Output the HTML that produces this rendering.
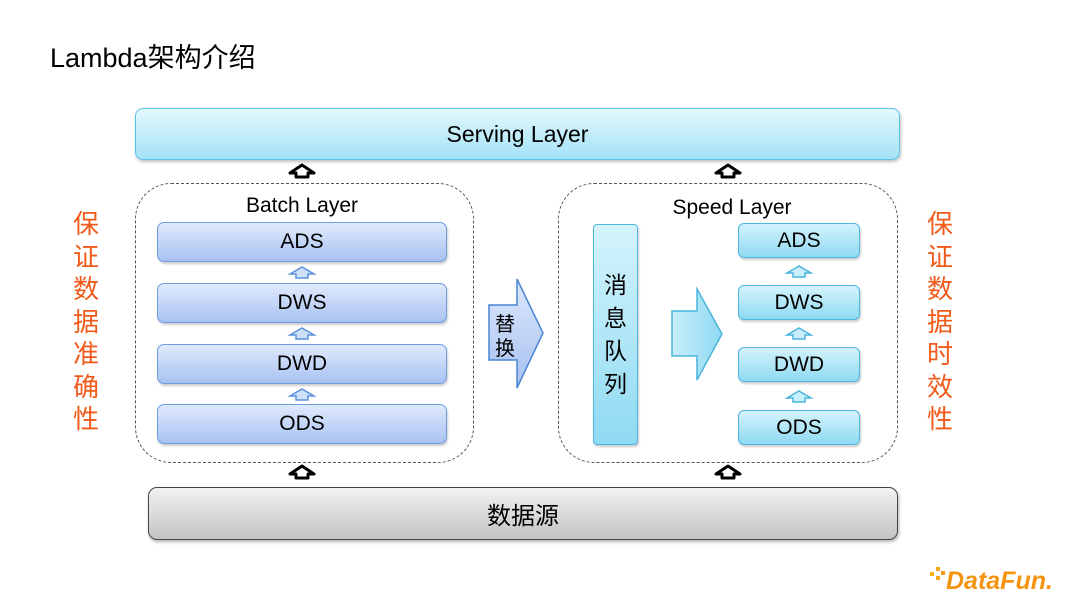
<!DOCTYPE html>
<html><head><meta charset="utf-8"><style>
body{margin:0;width:1080px;height:608px;background:#fff;position:relative;overflow:hidden;font-family:"Liberation Sans","Noto Sans CJK SC",sans-serif;}
.a{position:absolute;box-sizing:border-box;}
.c{display:flex;align-items:center;justify-content:center;}
.bb{background:linear-gradient(#e0eafc,#a8c2f2);border:1.5px solid #6e9ee0;border-radius:7px;font-size:21px;color:#000;box-shadow:1px 2px 2px rgba(0,0,0,.2);}
.sb{background:linear-gradient(#d4f3fc,#8fdaf2);border:1.5px solid #4fb6de;border-radius:6px;font-size:21px;color:#000;box-shadow:1px 2px 2px rgba(0,0,0,.2);}
.dash{border:1px dashed #555;border-radius:36px;}
.or{color:#f05a1a;font-size:26px;line-height:32.5px;width:30px;text-align:center;}
</style></head><body>
<div class="a" style="left:50px;top:36px;font-size:27px;">Lambda架构介绍</div>

<div class="a c" style="left:135px;top:108px;width:765px;height:52px;background:linear-gradient(#e3f8fd,#a3e2f6);border:1.5px solid #5cc2e4;border-radius:8px;font-size:23px;box-shadow:1px 2px 3px rgba(0,0,0,.25);">Serving Layer</div>

<div class="a dash" style="left:135px;top:183px;width:339px;height:280px;"></div>
<div class="a dash" style="left:558px;top:183px;width:340px;height:280px;"></div>
<div class="a" style="left:202px;top:194px;width:200px;text-align:center;font-size:21px;">Batch Layer</div>
<div class="a" style="left:632px;top:196px;width:200px;text-align:center;font-size:21px;">Speed Layer</div>

<div class="a c bb" style="left:157px;top:222px;width:290px;height:40px;">ADS</div>
<div class="a c bb" style="left:157px;top:283px;width:290px;height:40px;">DWS</div>
<div class="a c bb" style="left:157px;top:344px;width:290px;height:40px;">DWD</div>
<div class="a c bb" style="left:157px;top:404px;width:290px;height:40px;">ODS</div>

<div class="a c sb" style="left:738px;top:223px;width:122px;height:35px;">ADS</div>
<div class="a c sb" style="left:738px;top:285px;width:122px;height:35px;">DWS</div>
<div class="a c sb" style="left:738px;top:347px;width:122px;height:35px;">DWD</div>
<div class="a c sb" style="left:738px;top:410px;width:122px;height:35px;">ODS</div>

<div class="a sb" style="left:593px;top:224px;width:45px;height:221px;font-size:23px;line-height:33px;text-align:center;padding-top:44px;border-radius:4px;">消<br>息<br>队<br>列</div>

<div class="a c" style="left:148px;top:487px;width:750px;height:53px;background:linear-gradient(#f2f2f2,#c4c4c4);border:1.5px solid #444;border-radius:9px;font-size:24px;box-shadow:1px 2px 3px rgba(0,0,0,.3);">数据源</div>

<div class="a or" style="left:71px;top:208px;">保<br>证<br>数<br>据<br>准<br>确<br>性</div>
<div class="a or" style="left:925px;top:208px;">保<br>证<br>数<br>据<br>时<br>效<br>性</div>

<svg class="a" style="left:0;top:0" width="1080" height="608">
<defs>
<linearGradient id="g1" x1="0" y1="0" x2="0" y2="1"><stop offset="0" stop-color="#dde8fc"/><stop offset="1" stop-color="#a6c0f0"/></linearGradient>
<linearGradient id="g2" x1="0" y1="0" x2="1" y2="0"><stop offset="0" stop-color="#c8effb"/><stop offset="1" stop-color="#8fd9f2"/></linearGradient>
<g id="blk"><path d="M-12,4 L0,-4 L12,4 L6,4 L6,8 L-6,8 L-6,4 Z" fill="#fff" stroke="#000" stroke-width="3" stroke-linejoin="round"/></g>
<g id="sml"><path d="M-12,3 L0,-4 L12,3 L6,3 L6,7 L-6,7 L-6,3 Z" fill="#cfe0fb" stroke="#5a92dc" stroke-width="1.5"/></g>
<g id="smc"><path d="M-12,3 L0,-4 L12,3 L6,3 L6,7 L-6,7 L-6,3 Z" fill="#c8effb" stroke="#4ab4dc" stroke-width="1.5"/></g>
</defs>
<use href="#blk" x="302" y="169"/>
<use href="#blk" x="728" y="169"/>
<use href="#blk" x="302" y="470"/>
<use href="#blk" x="728" y="470"/>
<use href="#sml" x="302" y="271"/>
<use href="#sml" x="302" y="332"/>
<use href="#sml" x="302" y="393"/>
<use href="#smc" x="799" y="270"/>
<use href="#smc" x="799" y="332"/>
<use href="#smc" x="799" y="395"/>
<path d="M489,305 L517,305 L517,279 L543,333 L517,388 L517,360 L489,360 Z" fill="url(#g1)" stroke="#4a86d4" stroke-width="1.5"/>
<text x="505" y="331" font-size="20" text-anchor="middle" font-family="Noto Sans CJK SC,sans-serif">替</text>
<text x="505" y="355" font-size="20" text-anchor="middle" font-family="Noto Sans CJK SC,sans-serif">换</text>
<path d="M672,311 L697,311 L697,289 L722,334 L697,380 L697,356 L672,356 Z" fill="url(#g2)" stroke="#4ab4dc" stroke-width="1.5"/>
<g transform="translate(930,564)">
<rect x="0" y="8" width="4" height="4" fill="#f7b21b"/><rect x="6" y="3" width="4" height="4" fill="#f7a51b"/><rect x="6" y="12" width="4" height="4" fill="#f7a51b"/><rect x="11" y="7" width="4" height="4" fill="#f59a1b"/>
<text x="16" y="25" font-size="25" font-weight="bold" font-style="italic" fill="#f39412" font-family="Liberation Sans,sans-serif">DataFun.</text>
</g>
</svg>
</body></html>
